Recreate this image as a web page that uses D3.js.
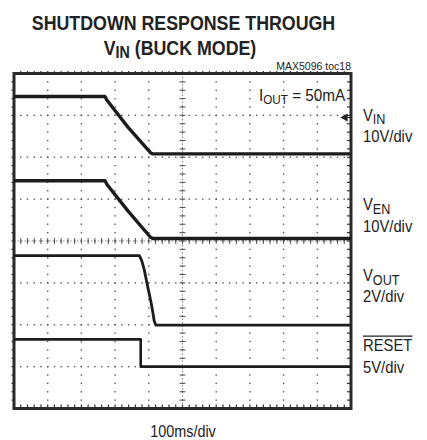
<!DOCTYPE html>
<html lang="en">
<head>
    <meta charset="UTF-8">
    <title>Shutdown Response Through VIN (Buck Mode)</title>
    <style>
        body { margin: 0; background: #fff; }
        text { font-family: "Liberation Sans", Arial, sans-serif; fill: #222; }
    </style>
    <script src="https://d3js.org/d3.v7.min.js"></script>
</head>
<body>
    <svg width="427" height="440"></svg>

    <script>
        // Scope settings: 10 horizontal divisions (100ms/div), 8 vertical divisions
        const timeDomain = [0, 1000];   // ms
        const divDomain = [0, 8];       // vertical divisions, 0 = bottom

        // Traces (time in ms, level in divisions)
        const vinT = [0, 270, 276, 338, 405, 412, 1000];
        const vinV = [7.45, 7.45, 7.36, 6.72, 6.11, 6.08, 6.08];

        const venT = [0, 270, 276, 338, 405, 412, 1000];
        const venV = [5.44, 5.44, 5.35, 4.72, 4.09, 4.06, 4.06];

        const voutT = [0, 372, 379, 386, 396, 406, 412, 416, 421, 1000];
        const voutV = [3.65, 3.65, 3.53, 3.33, 2.94, 2.56, 2.30, 2.09, 1.99, 1.99];

        const resetT = [0, 376, 376, 1000];
        const resetV = [1.65, 1.65, 1.00, 1.00];

        const svg = d3.select("svg");

        const x = d3.scaleLinear().domain(timeDomain).range([14, 351]);
        const y = d3.scaleLinear().domain(divDomain).range([408.5, 73.5]);

        const majorX = d3.range(1, 10).map(i => i * 100);
        const majorY = d3.range(1, 8);
        const minorX = d3.range(1, 50).map(i => i * 20);
        const minorY = d3.range(1, 40).map(i => i / 5);

        const grid = svg.append("g");

        // dotted grid lines: one dot per minor step
        majorX.forEach(t => {
            grid.selectAll(null)
                .data(minorY)
                .enter()
                .append("rect")
                .attr("x", x(t) - 0.7)
                .attr("y", d => y(d) - 0.7)
                .attr("width", 1.4)
                .attr("height", 1.4)
                .attr("fill", "#555");
        });
        majorY.forEach(v => {
            grid.selectAll(null)
                .data(minorX)
                .enter()
                .append("rect")
                .attr("x", d => x(d) - 0.7)
                .attr("y", y(v) - 0.7)
                .attr("width", 1.4)
                .attr("height", 1.4)
                .attr("fill", "#555");
        });

        // center axes with small crossing ticks
        grid.append("line")
            .attr("x1", x(500)).attr("x2", x(500))
            .attr("y1", y(8)).attr("y2", y(0))
            .attr("stroke", "#888").attr("stroke-width", 1)
            .attr("stroke-dasharray", "1.5,2");
        grid.append("line")
            .attr("x1", x(0)).attr("x2", x(1000))
            .attr("y1", y(4)).attr("y2", y(4))
            .attr("stroke", "#888").attr("stroke-width", 1)
            .attr("stroke-dasharray", "1.5,2");
        grid.selectAll(".vtick")
            .data(minorY)
            .enter()
            .append("line")
            .attr("x1", x(500) - 3).attr("x2", x(500) + 3)
            .attr("y1", d => y(d)).attr("y2", d => y(d))
            .attr("stroke", "#555").attr("stroke-width", 1);
        grid.selectAll(".htick")
            .data(minorX)
            .enter()
            .append("line")
            .attr("x1", d => x(d)).attr("x2", d => x(d))
            .attr("y1", y(4) - 3).attr("y2", y(4) + 3)
            .attr("stroke", "#555").attr("stroke-width", 1);

        // ticks on the frame
        const frameTick = (data, fx1, fy1, fx2, fy2) => grid.selectAll(null)
            .data(data)
            .enter()
            .append("line")
            .attr("x1", fx1).attr("y1", fy1)
            .attr("x2", fx2).attr("y2", fy2)
            .attr("stroke", "#333").attr("stroke-width", 1.2);
        frameTick(minorX, d => x(d), y(8) - 2.5, d => x(d), y(8));
        frameTick(minorX, d => x(d), y(0) - 4, d => x(d), y(0));
        frameTick(minorY, x(0) - 2.5, d => y(d), x(0), d => y(d));
        frameTick(minorY, x(1000) - 4, d => y(d), x(1000), d => y(d));

        // frame
        svg.append("rect")
            .attr("x", x(0)).attr("y", y(8))
            .attr("width", x(1000) - x(0))
            .attr("height", y(0) - y(8))
            .attr("fill", "none")
            .attr("stroke", "#2a2a2a")
            .attr("stroke-width", 3);

        // traces
        const line = d3.line()
            .x(d => x(d[0]))
            .y(d => y(d[1]));

        const traces = [
            {t: vinT, v: vinV, w: 3.4},
            {t: venT, v: venV, w: 3.4},
            {t: voutT, v: voutV, w: 2.8},
            {t: resetT, v: resetV, w: 2.6}
        ];
        svg.selectAll(".trace")
            .data(traces)
            .enter()
            .append("path")
            .attr("d", d => line(d3.zip(d.t, d.v)))
            .attr("fill", "none")
            .attr("stroke", "#1c1c1c")
            .attr("stroke-width", d => d.w)
            .attr("stroke-linejoin", "round");

        // channel marker arrow on the right edge
        svg.append("path")
            .attr("d", "M341.5,117.5 L347,114.5 L347,120.5 Z M346,117.5 L351,117.5")
            .attr("fill", "#222")
            .attr("stroke", "#222")
            .attr("stroke-width", 1.2);

        // condensed text helper
        function label(px, py, parts, opts) {
            const g = svg.append("g")
                .attr("transform", `translate(${px},${py}) scale(${opts.sx || 1},1)`);
            const t = g.append("text")
                .attr("text-anchor", opts.anchor || "start")
                .attr("font-size", opts.size)
                .attr("font-weight", opts.bold ? "bold" : "normal");
            parts.forEach(p => {
                t.append("tspan")
                    .attr("font-size", p.size || opts.size)
                    .attr("dy", p.dy || 0)
                    .text(p.s);
            });
            return t;
        }

        // title
        label(183.5, 29.5, [{s: "SHUTDOWN RESPONSE THROUGH"}], {size: 20, bold: true, sx: 0.89, anchor: "middle"});
        label(180, 55, [{s: "V"}, {s: "IN", size: 16, dy: 3}, {s: " (BUCK MODE)", dy: -3}],
            {size: 20, bold: true, sx: 0.89, anchor: "middle"});
        label(351, 70, [{s: "MAX5096 toc18"}], {size: 10.5, anchor: "end", sx: 1});

        // load annotation
        label(259, 100.5, [{s: "I"}, {s: "OUT", size: 13, dy: 3.5}, {s: " = 50mA", dy: -3.5}], {size: 17, sx: 0.9});

        // channel labels
        const lx = 363;
        label(lx, 120.7, [{s: "V"}, {s: "IN", size: 14.5, dy: 3.5}], {size: 17, sx: 0.87});
        label(lx, 141.5, [{s: "10V/div"}], {size: 17, sx: 0.87});
        label(lx, 210, [{s: "V"}, {s: "EN", size: 14.5, dy: 3.5}], {size: 17, sx: 0.87});
        label(lx, 231.5, [{s: "10V/div"}], {size: 17, sx: 0.87});
        label(lx, 281, [{s: "V"}, {s: "OUT", size: 14.5, dy: 3.5}], {size: 17, sx: 0.87});
        label(lx, 301.7, [{s: "2V/div"}], {size: 17, sx: 0.87});
        const reset = label(lx, 350.7, [{s: "RESET"}], {size: 17, sx: 0.87});
        const rb = reset.node().getBBox();
        d3.select(reset.node().parentNode).append("line")
            .attr("x1", rb.x).attr("x2", rb.x + rb.width)
            .attr("y1", -14.5).attr("y2", -14.5)
            .attr("stroke", "#222").attr("stroke-width", 1.2);
        label(lx, 373.3, [{s: "5V/div"}], {size: 17, sx: 0.87});

        // time base
        label(183, 437, [{s: "100ms/div"}], {size: 16, sx: 0.9, anchor: "middle"});
    </script>
</body>
</html>
